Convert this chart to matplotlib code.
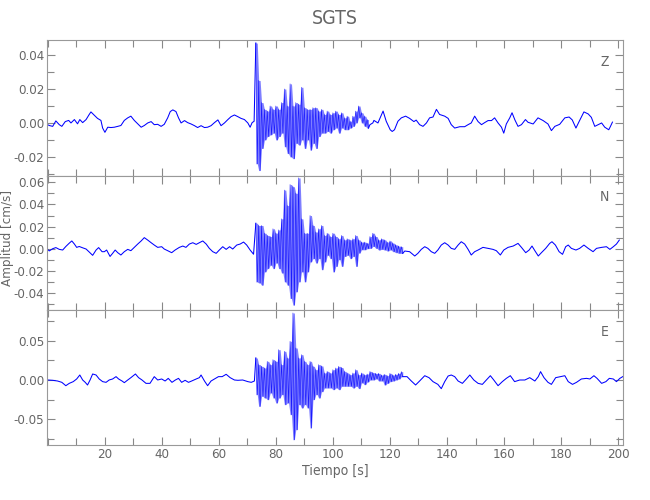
import numpy as np
import matplotlib
matplotlib.use("Agg")
import matplotlib.pyplot as plt
from matplotlib.ticker import MultipleLocator, FixedLocator, FormatStrFormatter

plt.rcParams['font.family'] = ['DejaVu Sans']
plt.rcParams['font.stretch'] = 'condensed'

# ---- data (cm/s vs s) ----
# quiet part before the P onset: (time, value) vertices
z_pre_t = [0.0, 0.6, 1.8, 2.9, 4.1, 5.0, 6.2, 7.4, 8.2, 9.4, 10.5, 11.3, 12.3, 13.5, 14.6, 15.2, 16.4, 17.5,
           18.7, 19.3, 20.1, 21.1, 22.2, 23.4, 24.6, 25.7, 26.9, 28.1, 29.2, 30.4, 31.6, 32.8, 33.9, 35.1, 36.3,
           37.4, 38.6, 39.8, 40.9, 42.1, 43.0, 43.9, 45.0, 45.9, 46.8, 48.0, 49.1, 50.3, 51.5, 52.6, 53.8, 55.0,
           56.1, 57.3, 58.5, 59.7, 60.8, 62.0, 63.2, 64.3, 65.5, 66.7, 67.8, 69.0, 70.2, 71.0, 71.7, 72.4]
z_pre_v = [-0.001, -0.0015, -0.002, 0.0012, -0.001, -0.002, 0.0008, 0.0015, 0.0, 0.002, -0.0005, 0.002, 0.0002,
           0.002, 0.005, 0.0065, 0.0045, 0.0027, 0.0015, -0.003, -0.0055, -0.0025, -0.0027, -0.0025, -0.002,
           -0.0015, 0.0015, 0.003, 0.004, 0.0015, -0.0005, -0.0025, -0.0015, 0.0, 0.0008, -0.001, -0.0008, -0.002,
           -0.0008, 0.003, 0.0067, 0.0077, 0.0067, 0.003, 0.0, 0.0014, 0.0002, -0.0006, -0.0016, -0.0027, -0.0016,
           -0.0027, -0.0025, -0.0016, 0.0002, 0.0018, -0.0016, 0.0, 0.002, 0.0037, 0.0047, 0.0037, 0.0027, 0.002,
           0.0, -0.0025, 0.0002, 0.001]
# strong motion: max / min in each second from t = 73 s
z_hi = [0.047, 0.025, 0.012, 0.008, 0.007, 0.010, 0.008, 0.010, 0.008, 0.012, 0.020, 0.010, 0.023, 0.010,
        0.012, 0.011, 0.021, 0.009, 0.008, 0.008, 0.009, 0.009, 0.007, 0.008, 0.005, 0.007, 0.005, 0.006,
        0.007, 0.005, 0.006, 0.003, 0.004, 0.001, 0.004, 0.007, 0.010, 0.006, 0.004, 0.002]
z_lo = [-0.024, -0.028, -0.015, -0.010, -0.008, -0.007, -0.006, -0.010, -0.008, -0.006, -0.014, -0.018,
        -0.020, -0.021, -0.012, -0.013, -0.010, -0.015, -0.010, -0.016, -0.012, -0.015, -0.008, -0.006,
        -0.006, -0.005, -0.006, -0.004, -0.003, -0.006, -0.003, -0.004, -0.004, -0.003, -0.002, 0.000,
        0.003, 0.000, -0.002, -0.003]
z_post_t = [113.0, 114.0, 114.4, 115.8, 117.6, 118.7, 120.1, 120.8, 121.6, 122.8, 124.0, 125.5, 126.9, 128.4,
            129.2, 130.4, 131.6, 132.8, 133.9, 135.1, 136.3, 137.4, 139.2, 140.4, 141.5, 142.7, 144.5, 146.2,
            147.4, 148.5, 149.7, 150.9, 152.1, 153.2, 154.4, 155.6, 156.7, 157.9, 159.1, 159.9, 160.8, 162.0,
            162.8, 163.8, 164.9, 166.1, 167.5, 168.4, 170.2, 171.9, 173.7, 175.4, 176.6, 177.8, 179.5, 181.3,
            182.8, 183.9, 185.2, 186.3, 188.0, 189.5, 190.6, 191.8, 193.0, 194.2, 195.3, 196.7, 197.3, 198.0]
z_post_v = [-0.001, 0.0, 0.0015, 0.0, 0.007, 0.001, -0.004, -0.005, -0.004, 0.001, 0.003, 0.004, 0.0027, 0.0008,
            0.0017, -0.001, -0.002, 0.0, 0.003, 0.0035, 0.008, 0.005, 0.004, 0.0027, -0.001, -0.003, -0.0022,
            -0.0022, -0.001, 0.0, 0.004, 0.0008, -0.001, 0.0002, 0.0014, 0.0014, 0.003, 0.0, -0.0025, -0.006,
            -0.0006, 0.003, 0.006, 0.0018, -0.002, -0.001, 0.002, 0.0004, -0.0006, 0.003, 0.0014, -0.0006,
            -0.0045, -0.002, -0.0008, 0.003, 0.0035, 0.0018, -0.003, 0.0008, 0.0065, 0.0053, 0.0033, -0.002,
            -0.001, 0.0, -0.0025, -0.004, -0.002, 0.0005]

n_pre_t = [0.0, 0.6, 1.8, 2.9, 4.1, 5.3, 6.4, 7.6, 8.5, 9.4, 10.2, 11.1, 12.3, 13.5, 14.6, 15.8, 17.0, 17.9,
           19.1, 19.9, 20.7, 21.9, 22.8, 23.7, 24.6, 25.7, 26.9, 28.1, 29.2, 30.4, 31.6, 32.8, 33.9, 35.1, 36.3,
           37.4, 38.6, 40.0, 40.9, 42.1, 43.5, 44.7, 46.2, 47.4, 48.5, 49.7, 50.9, 52.1, 53.2, 54.4, 55.6, 56.7,
           57.9, 59.1, 60.2, 61.4, 62.6, 63.8, 64.9, 66.3, 67.5, 68.7, 69.8, 71.0, 72.2]
n_pre_v = [-0.0006, -0.002, 0.0, 0.001, -0.0006, -0.0012, 0.002, 0.005, 0.007, 0.0042, 0.0012, 0.002, 0.0008,
           -0.0003, -0.003, -0.006, -0.0012, 0.001, -0.0027, -0.0027, -0.0012, -0.007, -0.0042, -0.0012, -0.0036,
           -0.0057, -0.0027, -0.0006, -0.0018, 0.0012, 0.0042, 0.007, 0.010, 0.0078, 0.0054, 0.0033, 0.0012,
           0.0018, -0.0003, -0.0018, -0.0036, -0.0012, 0.0012, 0.0024, 0.0012, 0.0042, 0.0054, 0.0039, 0.0054,
           0.007, 0.0042, 0.0003, -0.0027, -0.0042, -0.0012, 0.0018, -0.0006, 0.0018, -0.0003, 0.0033, 0.0042,
           0.006, 0.0033, -0.0012, -0.005]
n_hi = [0.023, 0.021, 0.021, 0.014, 0.012, 0.011, 0.018, 0.014, 0.017, 0.027, 0.053, 0.039, 0.058, 0.056,
        0.050, 0.064, 0.027, 0.014, 0.014, 0.030, 0.021, 0.015, 0.018, 0.021, 0.012, 0.014, 0.011, 0.014,
        0.011, 0.009, 0.012, 0.008, 0.009, 0.008, 0.009, 0.012, 0.008, 0.006, 0.006, 0.005,
        0.011, 0.014, 0.011, 0.008, 0.009, 0.008, 0.006, 0.007, 0.005, 0.0035, 0.0024, 0.0018]
n_lo = [-0.030, -0.031, -0.033, -0.021, -0.018, -0.015, -0.018, -0.013, -0.018, -0.022, -0.030, -0.033,
        -0.045, -0.051, -0.039, -0.030, -0.021, -0.030, -0.021, -0.012, -0.009, -0.013, -0.009, -0.019,
        -0.012, -0.006, -0.009, -0.021, -0.016, -0.010, -0.016, -0.007, -0.006, -0.009, -0.007, -0.016,
        -0.004, -0.001, -0.001, 0.000,
        0.0003, 0.002, 0.0003, -0.0012, -0.0006, -0.0012, -0.0021, -0.0012, -0.0027, -0.0036, -0.0042, -0.0042]
n_post_t = [125.2, 126.9, 128.7, 129.8, 131.0, 132.2, 133.3, 134.5, 135.7, 136.8, 138.0, 139.2, 140.4, 141.5,
            142.7, 143.9, 145.0, 146.2, 147.4, 148.5, 149.7, 150.9, 152.6, 154.4, 156.1, 157.3, 158.7, 159.9,
            161.4, 163.2, 164.9, 166.1, 167.6, 168.8, 169.8, 170.8, 172.0, 173.1, 174.6, 176.0, 176.8, 178.0,
            179.3, 180.5, 181.6, 182.5, 183.6, 185.2, 186.5, 188.0, 189.5, 191.2, 192.4, 194.2, 195.9, 197.1,
            198.3, 199.4, 200.4]
n_post_v = [-0.0021, -0.0027, -0.0066, -0.0042, -0.0006, 0.0018, 0.0003, -0.0027, -0.0042, -0.0012, 0.0033,
            0.0054, 0.0033, 0.0003, -0.0006, 0.0033, 0.0063, 0.0042, -0.0006, -0.0057, -0.0027, -0.0012, 0.0012,
            0.0003, -0.0006, -0.0018, -0.0057, -0.0012, 0.0012, 0.0024, 0.0048, 0.0012, -0.0036, -0.0012, 0.0024,
            -0.0018, -0.0066, -0.0036, 0.0003, 0.0048, 0.0063, 0.0033, -0.0027, -0.0051, 0.0018, 0.0033, 0.0003,
            -0.0012, 0.0003, 0.0033, 0.0003, -0.0027, 0.0003, 0.0012, 0.0018, -0.0006, 0.0018, 0.0042, 0.0078]

e_pre_t = [0.0, 1.8, 3.5, 5.0, 6.4, 7.6, 9.0, 10.2, 11.3, 12.3, 13.2, 14.0, 14.9, 15.8, 17.0, 18.1, 19.3, 20.5,
           21.6, 22.8, 24.0, 24.9, 26.1, 26.9, 28.1, 29.2, 30.8, 31.9, 33.1, 34.5, 35.9, 37.4, 38.6, 40.0, 41.2,
           42.3, 43.6, 44.8, 45.9, 47.0, 48.2, 49.4, 50.5, 52.1, 53.2, 53.8, 55.0, 56.1, 57.3, 58.5, 59.9, 61.2,
           62.6, 64.0, 65.5, 66.7, 68.4, 70.2, 71.4, 72.5]
e_pre_v = [0.0, -0.0004, -0.0013, -0.003, -0.0073, -0.0043, -0.0021, 0.0013, 0.0064, 0.0, -0.003, -0.0064, 0.0,
           0.0077, 0.0064, 0.0013, -0.0021, -0.003, 0.0, 0.0013, 0.0043, 0.0013, -0.0013, -0.0034, 0.0, 0.003,
           0.0077, 0.003, 0.0, -0.0043, -0.0043, 0.0043, 0.0, 0.0013, -0.0013, 0.0021, -0.003, 0.0, 0.0021,
           -0.003, -0.0004, -0.003, -0.0013, 0.0013, 0.003, 0.0064, -0.0013, -0.0073, -0.0013, 0.0013, 0.0043,
           0.0043, 0.0073, 0.003, 0.0, -0.0004, 0.0, -0.0021, -0.003, -0.0013]
e_hi = [0.0282, 0.0197, 0.0175, 0.0154, 0.0239, 0.0197, 0.0261, 0.0239, 0.0389, 0.0197, 0.0368, 0.0282,
        0.0496, 0.0859, 0.041, 0.0282, 0.0325, 0.0239, 0.0197, 0.0239, 0.0175, 0.0132, 0.0197, 0.018,
        0.009, 0.0111, 0.009, 0.0132, 0.0154, 0.0175, 0.016, 0.0111, 0.009, 0.0068, 0.009, 0.0132, 0.0068,
        0.009, 0.0068, 0.0077,
        0.011, 0.0094, 0.0085, 0.0085, 0.0064, 0.0073, 0.0056, 0.0085, 0.0064, 0.0073, 0.0085, 0.0107]
e_lo = [-0.0188, -0.0338, -0.0209, -0.0231, -0.0252, -0.0167, -0.0231, -0.0295, -0.0231, -0.0188, -0.0316,
        -0.0295, -0.0444, -0.0765, -0.0637, -0.0316, -0.0359, -0.0316, -0.0359, -0.0615, -0.0252, -0.0188,
        -0.0231, -0.015, -0.0103, -0.0103, -0.0103, -0.0124, -0.0103, -0.0124, -0.0081, -0.0081, -0.0081,
        -0.0081, -0.0103, -0.0081, -0.011, -0.0038, -0.006, -0.0026,
        0.0, 0.0, 0.0013, -0.0013, -0.0013, -0.0064, -0.0043, -0.0021, -0.0013, 0.0, 0.0013, 0.0043]
e_post_t = [126.0, 127.5, 129.0, 130.4, 132.2, 133.7, 135.1, 136.8, 138.0, 139.2, 140.4, 141.5, 142.7, 143.9,
            145.4, 146.8, 148.0, 149.4, 150.9, 152.4, 153.8, 155.2, 156.4, 157.9, 159.4, 160.8, 162.2, 163.7,
            165.5, 167.3, 169.0, 170.8, 172.0, 172.8, 174.0, 175.4, 176.6, 178.1, 179.8, 181.3, 182.5, 184.0,
            185.4, 187.1, 188.9, 190.1, 191.5, 192.6, 194.2, 195.7, 196.9, 198.3, 199.4, 200.6, 201.6]
e_post_v = [0.0043, -0.0013, -0.0064, -0.0013, 0.0055, 0.003, -0.0021, -0.0056, -0.0111, -0.0021, 0.0051, 0.0064,
            0.0043, -0.0013, -0.0043, 0.0013, 0.0064, 0.0, -0.0043, -0.0056, 0.0, 0.0055, 0.0, -0.0073, -0.0021,
            0.0021, 0.0055, -0.0021, 0.0, 0.0, 0.003, -0.0013, 0.0043, 0.0107, 0.003, -0.003, -0.0056, 0.003,
            0.0043, 0.0055, -0.0021, -0.0056, -0.003, 0.0013, 0.0021, 0.0013, 0.0055, 0.0021, -0.0043, -0.0021,
            0.0021, 0.0013, -0.0021, 0.0021, 0.0043]

shake_start = 73  # first second of the strong-motion max/min lists

components = [
    ("Z", z_pre_t, z_pre_v, z_hi, z_lo, z_post_t, z_post_v),
    ("N", n_pre_t, n_pre_v, n_hi, n_lo, n_post_t, n_post_v),
    ("E", e_pre_t, e_pre_v, e_hi, e_lo, e_post_t, e_post_v),
]

ylims = [(-0.0312, 0.0488), (-0.0554, 0.0657), (-0.0833, 0.0897)]
yminor = [0.01, 0.01, 0.025]
ylabels_at = [[-0.02, 0.0, 0.02, 0.04], [-0.04, -0.02, 0.0, 0.02, 0.04, 0.06], [-0.05, 0.0, 0.05]]

gray = '#666666'
blue = '#0000ff'
fig = plt.figure(figsize=(6.5, 5.0), dpi=100)
W, H = 650.0, 500.0
left, right = 47 / W, 623.3 / W
edges = [40, 176, 310, 445]

for i, (name, pre_t, pre_v, hi, lo, post_t, post_v) in enumerate(components):
    top, bot = edges[i], edges[i + 1]
    ax = fig.add_axes([left, 1 - bot / H, right - left, (bot - top) / H])

    sec = shake_start + np.arange(len(hi))
    shake_t = np.column_stack([sec, sec + 0.5]).ravel()
    shake_v = np.column_stack([hi, lo]).ravel()

    # dense strong-motion band, thin swing lines, then the quiet trace
    ax.fill_between(shake_t, np.repeat(lo, 2), np.repeat(hi, 2), color=blue, alpha=0.5, lw=0)
    ax.plot(shake_t, shake_v, color=blue, lw=0.45, alpha=0.8)
    ax.plot(np.concatenate([pre_t, shake_t[:1]]), np.concatenate([pre_v, shake_v[:1]]), color=blue, lw=0.75)
    ax.plot(np.concatenate([shake_t[-1:], post_t]), np.concatenate([shake_v[-1:], post_v]), color=blue, lw=0.75)

    ax.set_xlim(-0.2, 201.8)
    ax.set_ylim(*ylims[i])
    ax.xaxis.set_major_locator(FixedLocator(np.arange(20, 201, 20)))
    ax.xaxis.set_minor_locator(MultipleLocator(10))
    ax.yaxis.set_major_locator(FixedLocator(ylabels_at[i]))
    ax.yaxis.set_minor_locator(MultipleLocator(yminor[i]))
    ax.yaxis.set_major_formatter(FormatStrFormatter('%.2f'))
    ax.tick_params(which='both', direction='in', top=True, right=True, colors='#888888',
                   labelcolor=gray, labelsize=9.5, width=0.8)
    ax.tick_params(which='major', length=6, pad=2)
    ax.tick_params(which='minor', length=5)
    if i < 2:
        ax.tick_params(labelbottom=False)
    for s in ax.spines.values():
        s.set_color('#999999')
        s.set_linewidth(0.8)
    ax.text(0.968, 0.84, name, transform=ax.transAxes, color=gray, fontsize=10, ha='center', va='center')
    if i == 2:
        ax.set_xlabel('Tiempo [s]', color=gray, fontsize=10, labelpad=2)

fig.text(0.5154, 1 - 18 / H, 'SGTS', color=gray, fontsize=14, ha='center', va='center')
fig.text(8 / W, 1 - 238 / H, 'Amplitud [cm/s]', color=gray, fontsize=9.5, rotation=90, ha='center', va='center')

fig.savefig('out.png', dpi=100)
